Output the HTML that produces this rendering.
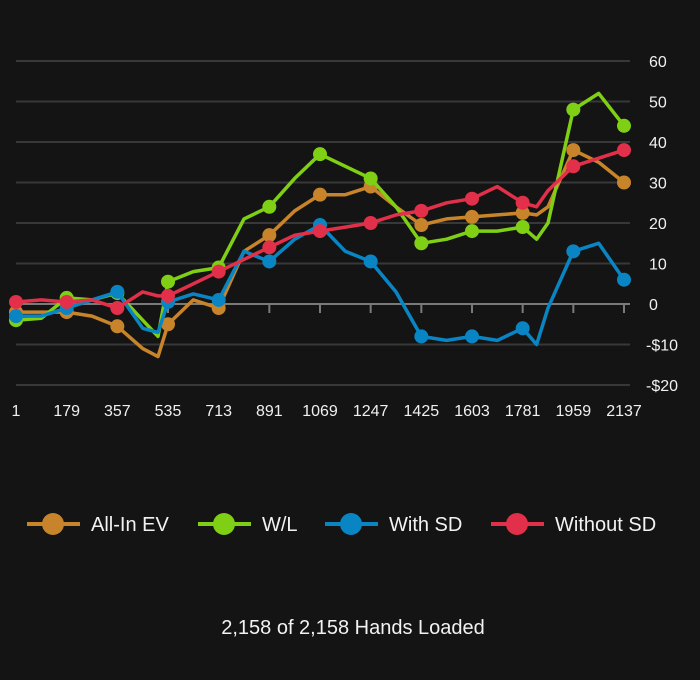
<!DOCTYPE html>
<html><head><meta charset="utf-8"><style>
html,body{margin:0;padding:0;background:#141414;}
body{width:700px;height:680px;overflow:hidden;font-family:"Liberation Sans",sans-serif;}
</style></head><body>
<svg id="chart" width="700" height="680" style="position:absolute;left:0;top:0">
<g id="grid"></g><g id="series"></g><g id="legend"></g>
<text x="353" y="634" fill="#f2f2f2" font-size="20" text-anchor="middle" font-family="Liberation Sans, sans-serif">2,158 of 2,158 Hands Loaded</text>
</svg>
<script>
const hands = [1,90,179,268,357,446,500,535,624,713,802,891,980,1069,1158,1247,1336,1425,1514,1603,1692,1781,1830,1870,1959,2048,2137];
const allInEV = [-2,-2,-2,-3,-5.5,-11,-13,-5,1,-1,13,17,23,27,27,29,24,19.5,21,21.5,22,22.5,22,24,38,35,30];
const winLoss = [-4,-3.5,1.5,1,2.7,-4,-8,5.5,8,9,21,24,31,37,34,31,24,15,16,18,18,19,16,20,48,52,44];
const withSD = [-3,-3,-1,1,3,-6,-7,0.5,2.5,1,13,10.5,16,19.5,13,10.5,3,-8,-9,-8,-9,-6,-10,-1,13,15,6];
const withoutSD = [0.5,1,0.5,1,-1,3,2,2,5,8,11,14,17,18,19,20,22,23,25,26,29,25,24,28,34,36,38];
const markerHands = [1,179,357,535,713,891,1069,1247,1425,1603,1781,1959,2137];
const yTicks = [60,50,40,30,20,10,0,-10,-20];
const yTickLabels = ["60","50","40","30","20","10","0","-$10","-$20"];
const xTicks = [1,179,357,535,713,891,1069,1247,1425,1603,1781,1959,2137];
const seriesNames = ["All-In EV","W/L","With SD","Without SD"];

const NS="http://www.w3.org/2000/svg";
const colors=["#c8842a","#7fcf14","#0a85c4","#e2304a"];
const seriesData=[allInEV,winLoss,withSD,withoutSD];
const slugs=["all-in-ev","win-loss","with-sd","without-sd"];
function xs(h){return 16+(h-1)*(608/2136);}
function ys(v){return 304-v*4.05;}
function mk(tag,attrs,parent){const e=document.createElementNS(NS,tag);for(const k in attrs)e.setAttribute(k,attrs[k]);parent.appendChild(e);return e;}
const grid=document.getElementById('grid');
yTicks.forEach((v,i)=>{
  const l=mk('line',{x1:16,x2:630,y1:ys(v),y2:ys(v),stroke:v===0?'#7a7a7a':'#383838','stroke-width':2},grid);
  
  
  const t=mk('text',{x:v<0?646:649,y:ys(v)+6,fill:'#f0f0f0','font-size':16,'font-family':'Liberation Sans, sans-serif'},grid);
  t.textContent=yTickLabels[i];
  
  
});
xTicks.forEach(h=>{
  const l=mk('line',{x1:xs(h),x2:xs(h),y1:304,y2:313,stroke:'#7a7a7a','stroke-width':2},grid);
  
  
  const t=mk('text',{x:xs(h),y:416,fill:'#f0f0f0','font-size':16,'text-anchor':'middle','font-family':'Liberation Sans, sans-serif'},grid);
  t.textContent=h;
  
  
});
function valAt(arr,h){for(let i=0;i<hands.length-1;i++){if(h>=hands[i]&&h<=hands[i+1]){const f=(h-hands[i])/(hands[i+1]-hands[i]);return arr[i]+f*(arr[i+1]-arr[i]);}}return arr[arr.length-1];}
const sg=document.getElementById('series');
seriesData.forEach((arr,si)=>{
  const g=mk('g',{},sg);
  
  
  const d=hands.map((h,i)=>(i?'L':'M')+xs(h).toFixed(1)+','+ys(arr[i]).toFixed(1)).join(' ');
  const p=mk('path',{d:d,fill:'none',stroke:colors[si],'stroke-width':3.5,'stroke-linejoin':'round'},g);
  
  
  markerHands.forEach(h=>{
    const c=mk('circle',{cx:xs(h),cy:ys(valAt(arr,h)),r:7,fill:colors[si]},g);
    
    
  });
});
const lg=document.getElementById('legend');
const lx=[[27,91],[198,262],[325,389],[491,555]];
seriesNames.forEach((n,i)=>{
  const g=mk('g',{},lg);
  
  
  mk('line',{x1:lx[i][0],x2:lx[i][0]+53,y1:524,y2:524,stroke:colors[i],'stroke-width':4},g);
  mk('circle',{cx:lx[i][0]+26,cy:524,r:11,fill:colors[i]},g);
  const t=mk('text',{x:lx[i][1],y:531,fill:'#f2f2f2','font-size':20,'font-family':'Liberation Sans, sans-serif'},g);
  t.textContent=n;
});
</script>
</body></html>
